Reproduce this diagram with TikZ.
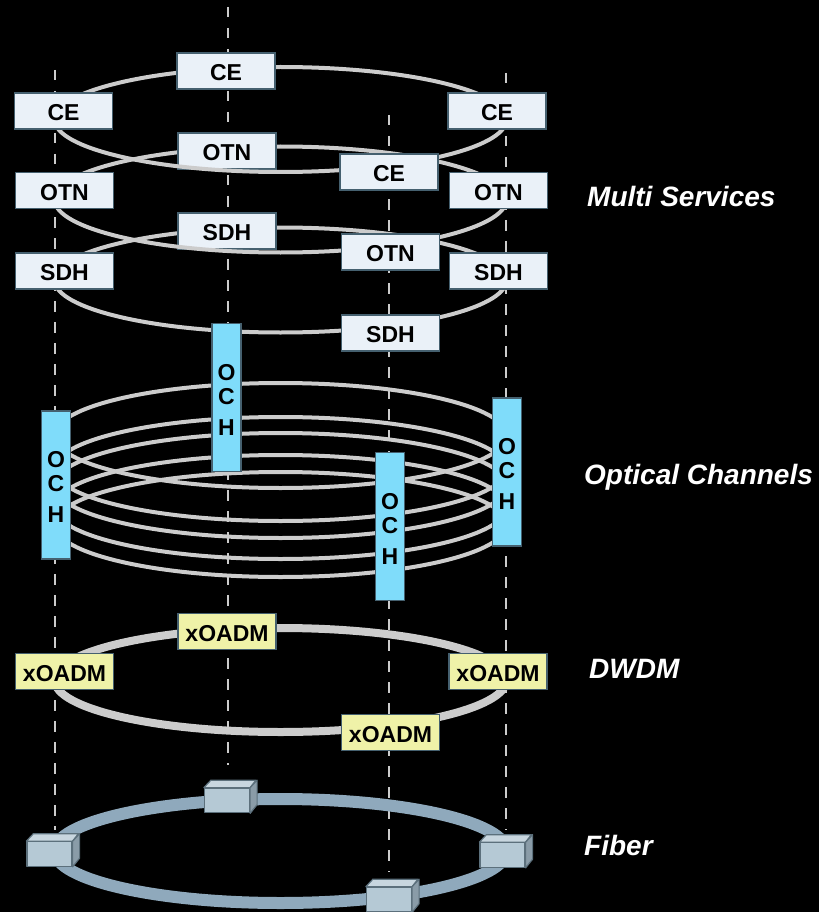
\documentclass[tikz,border=0pt]{standalone}
\usepackage{fontspec}
\setmainfont{Liberation Sans}
\definecolor{ringgrey}{HTML}{CCCCCC}
\definecolor{boxline}{HTML}{45606F}
\definecolor{svcfill}{HTML}{EAF1F8}
\definecolor{ochfill}{HTML}{7FDCFA}
\definecolor{oadmfill}{HTML}{EFF2A8}
\definecolor{fibre}{HTML}{8FA9BC}
\definecolor{cubefront}{HTML}{B5C9D5}
\definecolor{cubetop}{HTML}{C8D6DF}
\definecolor{cubeside}{HTML}{8A9CA8}
\definecolor{cubeline}{HTML}{5C707C}
\newcommand{\ochtext}{\rule{0pt}{20pt}O\\C\\[7pt]H}
\tikzset{
  x=1pt,y=-1pt,
  dashline/.style={draw=ringgrey,line width=1.8pt,dash pattern=on 10.5pt off 10.5pt},
  thinring/.style={draw=ringgrey,line width=4pt},
  oadmring/.style={draw=ringgrey,line width=8pt},
  fibrering/.style={draw=fibre,line width=12pt},
  tag/.style={draw=boxline,line width=1.8pt,minimum width=98pt,minimum height=36pt,inner sep=0pt,
    text height=19.5pt,text depth=0pt,
    font=\fontsize{23}{24}\selectfont\bfseries,text=black},
  svc/.style={tag,fill=svcfill},
  oadm/.style={tag,fill=oadmfill},
  och/.style={draw=boxline,line width=1.8pt,fill=ochfill,minimum width=29pt,minimum height=148pt,inner sep=0pt,
    align=center,font=\fontsize{23}{24}\selectfont\bfseries,text=black},
  cubeface/.style={draw=cubeline,line width=1.2pt,line join=round},
  cubenode/.style={cubeface,fill=cubefront,minimum width=45pt,minimum height=24.5pt,inner sep=0pt},
  layerlabel/.style={anchor=base west,text=white,inner sep=0pt,font=\fontsize{28}{30}\selectfont\bfseries\itshape},
}
\newcommand{\cubeat}[3]{%
  \node[cubenode] (#1) at (#2,#3) {};
  \draw[cubeface,fill=cubetop] (#1.north west) -- ++(7,-7.5) -- ++(45,0) -- (#1.north east) -- cycle;
  \draw[cubeface,fill=cubeside] (#1.north east) -- ++(7,-7.5) -- ++(0,24.5) -- (#1.south east) -- cycle;
}
\begin{document}
\begin{tikzpicture}
\useasboundingbox (0,0) rectangle (819,912);
\fill[black] (0,0) rectangle (819,912);
\clip (0,0) rectangle (819,912);

% drop lines
\coordinate (d1a) at (55,70);   \coordinate (d1b) at (55,830);
\coordinate (d2a) at (228,7);   \coordinate (d2b) at (228,765);
\coordinate (d3a) at (389,115); \coordinate (d3b) at (389,872);
\coordinate (d4a) at (506,73);  \coordinate (d4b) at (506,830);
\draw[dashline] (d1a) -- (d1b);
\draw[dashline] (d2a) -- (d2b);
\draw[dashline] (d3a) -- (d3b);
\draw[dashline] (d4a) -- (d4b);

% SDH layer
\draw[thinring] (280.5,280) ellipse [x radius=226, y radius=52.5];
\node[svc] (sdh1) at (227,231) {SDH};
\node[svc] (sdh2) at (64.5,271) {SDH};
\node[svc] (sdh3) at (498.5,271) {SDH};

% OTN layer
\draw[thinring] (280.5,199.5) ellipse [x radius=226, y radius=53];
\node[svc] (otn1) at (227,151) {OTN};
\node[svc] (otn2) at (64.5,190.5) {OTN};
\node[svc] (otn3) at (498.5,190.5) {OTN};
\node[svc] (sdh4) at (390.5,333) {SDH};
\node[svc] (otn4) at (390.5,252) {OTN};

% CE layer
\draw[thinring] (280.5,119.5) ellipse [x radius=226, y radius=52.5];
\node[svc] (ce1) at (226,71) {CE};
\node[svc] (ce2) at (63.5,111) {CE};
\node[svc] (ce3) at (497,111) {CE};
\node[svc] (ce4) at (389,172) {CE};

% optical channels
\draw[thinring] (280.5,435.5) ellipse [x radius=226, y radius=52.5];
\draw[thinring] (280.5,469) ellipse [x radius=226, y radius=52];
\draw[thinring] (280.5,485.5) ellipse [x radius=226, y radius=52.5];
\draw[thinring] (280.5,507) ellipse [x radius=226, y radius=52];
\draw[thinring] (280.5,524.5) ellipse [x radius=226, y radius=52.5];
\node[och] (och1) at (226.5,397.5) {\ochtext};
\node[och] (och2) at (56,485) {\ochtext};
\node[och] (och3) at (507,472) {\ochtext};
\node[och] (och4) at (390,526.5) {\ochtext};

% DWDM
\draw[oadmring] (280.5,680) ellipse [x radius=226, y radius=52];
\node[oadm] (x1) at (227,631.5) {xOADM};
\node[oadm] (x2) at (64.5,671.5) {xOADM};
\node[oadm] (x3) at (498,671.5) {xOADM};
\node[oadm] (x4) at (390.5,732.5) {xOADM};

% fiber
\draw[fibrering] (280.5,851) ellipse [x radius=226, y radius=52];
\cubeat{f1}{227}{800.5}
\cubeat{f2}{49.5}{854}
\cubeat{f3}{502.5}{855}
\cubeat{f4}{389}{899.5}

% labels
\node[layerlabel] (l1) at (587,206) {Multi Services};
\node[layerlabel] (l2) at (584,484) {Optical Channels};
\node[layerlabel] (l3) at (589,678) {DWDM};
\node[layerlabel] (l4) at (584,855) {Fiber};
\end{tikzpicture}
\end{document}
